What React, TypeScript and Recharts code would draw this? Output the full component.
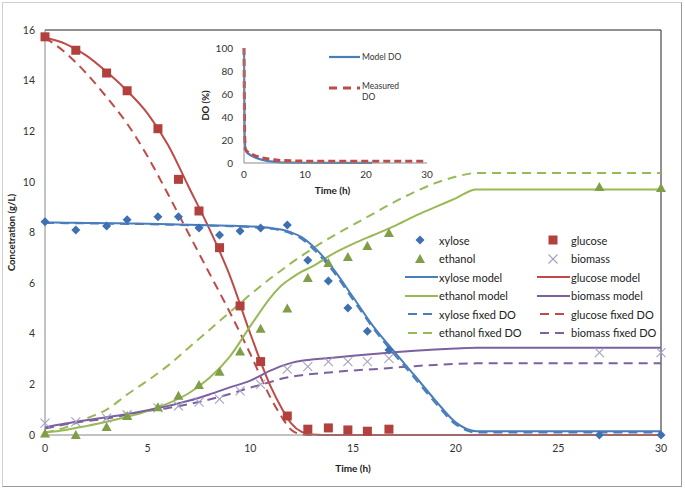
import React from 'react';
import { ComposedChart, LineChart, Line, Scatter, XAxis, YAxis, Legend, ReferenceLine } from 'recharts';

// ---------- measured data ----------
const sampleT = [0, 1.5, 3, 4, 5.5, 6.5, 7.5, 8.5, 9.5, 10.5, 11.8, 12.8, 13.8, 14.75, 15.7, 16.75, 27, 30];
const xyloseObs = [8.42, 8.1, 8.26, 8.5, 8.62, 8.62, 8.18, 7.9, 8.06, 8.18, 8.3, 6.9, 6.08, 5.02, 4.1, 3.36, 0, 0];
const glucoseObs = [15.73, 15.2, 14.3, 13.6, 12.1, 10.1, 8.85, 7.4, 5.1, 2.9, 0.75, 0.23, 0.28, 0.2, 0.15, 0.23, null, null];
const ethanolObs = [0.06, 0, 0.32, 0.75, 1.1, 1.55, 1.98, 2.5, 3.3, 4.2, 5.0, 6.2, 6.8, 7.03, 7.47, 7.98, 9.8, 9.76];
const biomassObs = [0.47, 0.52, 0.67, 0.8, 1.07, 1.15, 1.3, 1.42, 1.74, 2.0, 2.6, 2.7, 2.9, 2.9, 2.9, 3.03, 3.25, 3.25];

// ---------- model curves ----------
const modelT = [0, 1, 2, 3, 4, 5, 6, 7, 8, 9, 10, 11, 11.5, 12, 12.5, 13, 14, 15, 16, 17, 18, 19, 20, 21, 22, 25, 30];
const xyloseModel = [8.4, 8.39, 8.38, 8.37, 8.36, 8.35, 8.33, 8.31, 8.29, 8.27, 8.24, 8.18, 8.12, 8.0, 7.82, 7.5, 6.6, 5.45, 4.28, 3.3, 2.35, 1.38, 0.5, 0.15, 0.15, 0.15, 0.15];
const glucoseModel = [15.7, 15.45, 15.0, 14.35, 13.6, 12.7, 11.45, 9.8, 8.15, 6.3, 4.0, 1.9, 1.1, 0.45, 0.12, 0.02, 0, 0, 0, 0, 0, 0, 0, 0, 0, 0, 0];
const ethanolModel = [0.1, 0.2, 0.35, 0.52, 0.72, 0.95, 1.25, 1.65, 2.25, 3.1, 4.3, 5.45, 5.9, 6.2, 6.45, 6.65, 7.15, 7.55, 7.9, 8.25, 8.65, 9.0, 9.35, 9.7, 9.7, 9.7, 9.7];
const biomassModel = [0.3, 0.45, 0.58, 0.7, 0.83, 0.98, 1.15, 1.35, 1.6, 1.88, 2.15, 2.55, 2.72, 2.85, 2.93, 2.98, 3.05, 3.13, 3.2, 3.27, 3.33, 3.38, 3.42, 3.45, 3.45, 3.45, 3.45];
const xyloseFixed = [8.38, 8.37, 8.36, 8.35, 8.34, 8.33, 8.31, 8.29, 8.27, 8.25, 8.21, 8.15, 8.08, 7.95, 7.75, 7.4, 6.5, 5.35, 4.2, 3.2, 2.25, 1.28, 0.42, 0.1, 0.1, 0.1, 0.1];
const glucoseFixed = [15.7, 15.1, 14.3, 13.35, 12.3, 11.0, 9.5, 7.95, 6.4, 4.85, 3.2, 1.45, 0.75, 0.2, 0.03, 0, 0, 0, 0, 0, 0, 0, 0, 0, 0, 0, 0];
const ethanolFixed = [0.1, 0.3, 0.65, 1.0, 1.6, 2.15, 2.75, 3.45, 4.15, 4.85, 5.55, 6.2, 6.5, 6.8, 7.08, 7.35, 7.85, 8.3, 8.75, 9.2, 9.6, 9.95, 10.2, 10.35, 10.35, 10.35, 10.35];
const biomassFixed = [0.25, 0.42, 0.55, 0.65, 0.8, 0.95, 1.07, 1.22, 1.4, 1.62, 1.87, 2.1, 2.22, 2.3, 2.36, 2.41, 2.48, 2.55, 2.6, 2.66, 2.72, 2.77, 2.81, 2.83, 2.83, 2.83, 2.83];

// ---------- inset DO ----------
const doModelT = [0, 0.05, 0.1, 0.2, 0.5, 1, 2, 3, 4, 5, 6, 8, 10, 15, 21];
const doModel = [100, 60, 25, 12, 9, 7, 4.3, 2.7, 1.6, 1, 0.6, 0.3, 0.2, 0.1, 0.1];
const doMeasT = [0, 0.05, 0.1, 0.2, 0.5, 1, 2, 3, 4, 5, 6, 8, 10, 15, 20, 25, 30];
const doMeas = [100, 60, 25, 12, 10, 8, 6, 4.5, 3.5, 2.8, 2.2, 1.8, 1.6, 1.5, 1.5, 1.5, 1.5];

// ---------- ticks ----------
const xTicks = [0, 5, 10, 15, 20, 25, 30];
const yTicks = [0, 2, 4, 6, 8, 10, 12, 14, 16];
const insetXTicks = [0, 10, 20, 30];
const insetYTicks = [0, 20, 40, 60, 80, 100];

const FONT = 'Lato, "Open Sans", sans-serif';
const DASH = '9 6';
const C = {
  blue: '#4A7EBB',
  red: '#BE4B48',
  green: '#98B954',
  purple: '#7D60A0',
  diamond: '#3F6FB3',
  square: '#B2403D',
  tri: '#809E46',
  cross: '#A3A1C4',
};

const pts = (t: number[], v: (number | null)[]) =>
  t.map((x, i) => ({ x, y: v[i] })).filter((p) => p.y !== null && p.y !== undefined);

const Diamond = (p: any) => (
  <polygon points={`${p.cx},${p.cy - 4.5} ${p.cx + 4.5},${p.cy} ${p.cx},${p.cy + 4.5} ${p.cx - 4.5},${p.cy}`} fill={C.diamond} />
);
const Square = (p: any) => <rect x={p.cx - 4.5} y={p.cy - 4.5} width={9} height={9} fill={C.square} />;
const Triangle = (p: any) => (
  <polygon points={`${p.cx},${p.cy - 5} ${p.cx + 5},${p.cy + 4} ${p.cx - 5},${p.cy + 4}`} fill={C.tri} />
);
const Cross = (p: any) => (
  <g stroke={C.cross} strokeWidth={1.1}>
    <line x1={p.cx - 4.5} y1={p.cy - 4.5} x2={p.cx + 4.5} y2={p.cy + 4.5} />
    <line x1={p.cx - 4.5} y1={p.cy + 4.5} x2={p.cx + 4.5} y2={p.cy - 4.5} />
  </g>
);

type LegendItem = { label: string; kind: string; color: string };
const legendItems: LegendItem[] = [
  { label: 'xylose', kind: 'diamond', color: C.diamond },
  { label: 'glucose', kind: 'square', color: C.square },
  { label: 'ethanol', kind: 'triangle', color: C.tri },
  { label: 'biomass', kind: 'cross', color: C.cross },
  { label: 'xylose model', kind: 'solid', color: C.blue },
  { label: 'glucose model', kind: 'solid', color: C.red },
  { label: 'ethanol model', kind: 'solid', color: C.green },
  { label: 'biomass model', kind: 'solid', color: C.purple },
  { label: 'xylose fixed DO', kind: 'dashed', color: C.blue },
  { label: 'glucose fixed DO', kind: 'dashed', color: C.red },
  { label: 'ethanol fixed DO', kind: 'dashed', color: C.green },
  { label: 'biomass fixed DO', kind: 'dashed', color: C.purple },
];

const legendSymbol = (it: LegendItem) => {
  const cy = 6;
  switch (it.kind) {
    case 'diamond':
      return <Diamond cx={15} cy={cy} />;
    case 'square':
      return <Square cx={16} cy={cy} />;
    case 'triangle':
      return <Triangle cx={15} cy={cy} />;
    case 'cross':
      return <Cross cx={16} cy={cy} />;
    case 'solid':
      return <line x1={0} y1={cy} x2={33} y2={cy} stroke={it.color} strokeWidth={2} />;
    default:
      return <line x1={3} y1={cy} x2={31} y2={cy} stroke={it.color} strokeWidth={2} strokeDasharray="9 6" />;
  }
};

const renderMainLegend = () => (
  <div style={{ display: 'grid', gridTemplateColumns: '132px 132px', fontFamily: FONT, fontSize: 11, color: '#222' }}>
    {legendItems.map((it) => (
      <div key={it.label} style={{ display: 'flex', alignItems: 'center', height: 18.5, whiteSpace: 'nowrap' }}>
        <svg width={33} height={12} style={{ overflow: 'visible', flex: 'none' }}>
          {legendSymbol(it)}
        </svg>
        <span style={{ marginLeft: 1 }}>{it.label}</span>
      </div>
    ))}
  </div>
);

const renderInsetLegend = () => (
  <div style={{ fontFamily: FONT, fontSize: 8.5, color: '#333', lineHeight: '11px' }}>
    <div style={{ display: 'flex', alignItems: 'center', height: 12 }}>
      <svg width={31} height={6} style={{ flex: 'none' }}>
        <line x1={0} y1={3} x2={31} y2={3} stroke={C.blue} strokeWidth={2.2} />
      </svg>
      <span style={{ marginLeft: 2 }}>Model DO</span>
    </div>
    <div style={{ display: 'flex', alignItems: 'flex-start', marginTop: 18 }}>
      <svg width={31} height={12} style={{ flex: 'none' }}>
        <line x1={0} y1={7} x2={31} y2={7} stroke={C.red} strokeWidth={3} strokeDasharray="8 6" />
      </svg>
      <span style={{ marginLeft: 2 }}>
        Measured
        <br />
        DO
      </span>
    </div>
  </div>
);

const axisLabelStyle = { fontFamily: FONT, fontWeight: 700, fill: '#222' } as const;

export default function App() {
  const tickStyle = { fontSize: 10.5, fill: '#333', fontFamily: FONT };
  const insetTick = { fontSize: 10, fill: '#333', fontFamily: FONT };
  return (
    <div style={{ position: 'absolute', left: 0, top: 0, width: 685, height: 490, background: '#fff' }}>
      <div
        style={{
          position: 'absolute',
          left: 2,
          top: 2,
          width: 678,
          height: 483,
          border: '1px solid #cfcfcf',
          borderRightColor: '#9a9a9a',
          borderBottomColor: '#9a9a9a',
        }}
      />
      <div style={{ position: 'absolute', left: 0, top: 0 }}>
        <ComposedChart width={685} height={490} margin={{ top: 30, right: 24, left: 0, bottom: 0 }}>
          <XAxis
            type="number"
            dataKey="x"
            domain={[0, 30]}
            ticks={xTicks}
            height={55}
            axisLine={{ stroke: '#868686' }}
            tickLine={false}
            tick={tickStyle}
            tickMargin={4}
            label={(props: any) => {
              const vb = props.viewBox;
              return (
                <text x={vb.x + vb.width / 2} y={472} textAnchor="middle" fontSize={10} style={axisLabelStyle}>
                  Time (h)
                </text>
              );
            }}
          />
          <YAxis
            type="number"
            domain={[0, 16]}
            ticks={yTicks}
            width={45}
            axisLine={{ stroke: '#868686' }}
            tickLine={false}
            tick={tickStyle}
            tickMargin={4}
            label={(props: any) => {
              const vb = props.viewBox;
              const cy = vb.y + vb.height / 2;
              return (
                <text x={15} y={cy} textAnchor="middle" fontSize={9.5} transform={`rotate(-90, 15, ${cy})`} style={axisLabelStyle}>
                  Concetration (g/L)
                </text>
              );
            }}
          />
          <ReferenceLine y={16} stroke="#222" strokeWidth={1} />
          <ReferenceLine x={30} stroke="#222" strokeWidth={1} />

          <Line data={pts(modelT, glucoseFixed)} dataKey="y" type="monotone" stroke={C.red} strokeWidth={2} strokeDasharray={DASH} dot={false} isAnimationActive={false} />
          <Line data={pts(modelT, ethanolFixed)} dataKey="y" type="monotone" stroke={C.green} strokeWidth={2} strokeDasharray={DASH} dot={false} isAnimationActive={false} />
          <Line data={pts(modelT, biomassFixed)} dataKey="y" type="monotone" stroke={C.purple} strokeWidth={2} strokeDasharray={DASH} dot={false} isAnimationActive={false} />
          <Line data={pts(modelT, xyloseFixed)} dataKey="y" type="monotone" stroke={C.blue} strokeWidth={2} strokeDasharray={DASH} dot={false} isAnimationActive={false} />
          <Line data={pts(modelT, glucoseModel)} dataKey="y" type="monotone" stroke={C.red} strokeWidth={2} dot={false} isAnimationActive={false} />
          <Line data={pts(modelT, ethanolModel)} dataKey="y" type="monotone" stroke={C.green} strokeWidth={2} dot={false} isAnimationActive={false} />
          <Line data={pts(modelT, biomassModel)} dataKey="y" type="monotone" stroke={C.purple} strokeWidth={2} dot={false} isAnimationActive={false} />
          <Line data={pts(modelT, xyloseModel)} dataKey="y" type="monotone" stroke={C.blue} strokeWidth={2} dot={false} isAnimationActive={false} />

          <Scatter data={pts(sampleT, biomassObs)} dataKey="y" shape={Cross} isAnimationActive={false} />
          <Scatter data={pts(sampleT, ethanolObs)} dataKey="y" shape={Triangle} isAnimationActive={false} />
          <Scatter data={pts(sampleT, glucoseObs)} dataKey="y" shape={Square} isAnimationActive={false} />
          <Scatter data={pts(sampleT, xyloseObs)} dataKey="y" shape={Diamond} isAnimationActive={false} />

          <Legend
            layout="horizontal"
            verticalAlign="middle"
            align="center"
            content={renderMainLegend}
            wrapperStyle={{ left: 405, top: 231, width: 270, height: 115 }}
          />
        </ComposedChart>
      </div>

      <div style={{ position: 'absolute', left: 195, top: 25 }}>
        <LineChart width={250} height={190} margin={{ top: 23, right: 18, left: 0, bottom: 0 }}>
          <XAxis
            type="number"
            dataKey="x"
            domain={[0, 30]}
            ticks={insetXTicks}
            height={52}
            axisLine={{ stroke: '#8c8c8c' }}
            tickLine={false}
            tick={insetTick}
            tickMargin={2}
            label={(props: any) => {
              const vb = props.viewBox;
              return (
                <text x={vb.x + vb.width / 2 - 3} y={169} textAnchor="middle" fontSize={10} style={axisLabelStyle}>
                  Time (h)
                </text>
              );
            }}
          />
          <YAxis
            type="number"
            domain={[0, 100]}
            ticks={insetYTicks}
            width={49}
            axisLine={{ stroke: '#8c8c8c' }}
            tickLine={false}
            tick={insetTick}
            tickMargin={5}
            label={(props: any) => {
              const vb = props.viewBox;
              const cy = vb.y + vb.height / 2;
              return (
                <text x={14} y={cy} textAnchor="middle" fontSize={9.5} transform={`rotate(-90, 14, ${cy})`} style={axisLabelStyle}>
                  DO (%)
                </text>
              );
            }}
          />
          <Line data={pts(doModelT, doModel)} dataKey="y" type="linear" stroke={C.blue} strokeWidth={2.2} dot={false} isAnimationActive={false} />
          <Line data={pts(doMeasT, doMeas)} dataKey="y" type="linear" stroke={C.red} strokeWidth={3} strokeDasharray="7 4" dot={false} isAnimationActive={false} />
          <Legend
            layout="horizontal"
            verticalAlign="middle"
            align="center"
            content={renderInsetLegend}
            wrapperStyle={{ left: 134, top: 26, width: 110, height: 60 }}
          />
        </LineChart>
      </div>
    </div>
  );
}
